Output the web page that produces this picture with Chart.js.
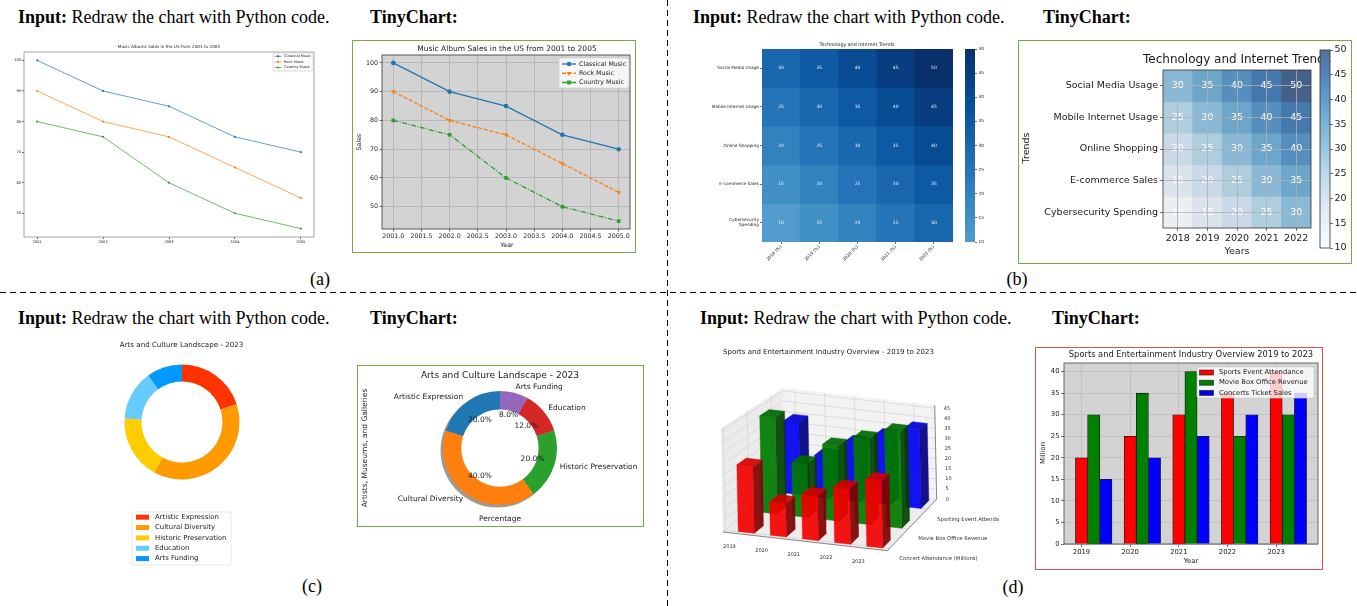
<!DOCTYPE html>
<html lang="en">
<head>
<meta charset="utf-8">
<title>Redraw examples</title>
<script src="https://cdn.jsdelivr.net/npm/chart.js@4.4.1/dist/chart.umd.min.js"></script>
<style>
  body { margin: 0; background: #fff; }
  #page { position: relative; width: 1357px; height: 606px; overflow: hidden; font-family: "Liberation Serif", "Times New Roman", serif; color: #000; }
  #page > * { position: absolute; }
  .hd { font-size: 18px; line-height: 20px; white-space: nowrap; }
  .cap { font-size: 18px; line-height: 20px; width: 40px; text-align: center; }
  .box { box-sizing: border-box; border: 1.5px solid #70ad47; }
  .box.red { border-color: #d9534f; }
  .vsep { left: 667px; top: 0; width: 1px; height: 606px; background: repeating-linear-gradient(180deg, #000 0 6px, transparent 6px 10px); }
  .hsep { left: 0; top: 292px; width: 1357px; height: 1px; background: repeating-linear-gradient(90deg, #000 0 6px, transparent 6px 10px); }
</style>
</head>
<body>
<div id="page">
  <div class="hd" style="left:18px;top:7px"><b>Input:</b> Redraw the chart with Python code.</div>
  <div class="hd" style="left:370px;top:7px"><b>TinyChart:</b></div>
  <div class="hd" style="left:693px;top:7px"><b>Input:</b> Redraw the chart with Python code.</div>
  <div class="hd" style="left:1043px;top:7px"><b>TinyChart:</b></div>
  <div class="hd" style="left:18px;top:308px"><b>Input:</b> Redraw the chart with Python code.</div>
  <div class="hd" style="left:370px;top:308px"><b>TinyChart:</b></div>
  <div class="hd" style="left:700px;top:308px"><b>Input:</b> Redraw the chart with Python code.</div>
  <div class="hd" style="left:1052px;top:308px"><b>TinyChart:</b></div>
  <div class="cap" style="left:300px;top:269px">(a)</div>
  <div class="cap" style="left:997px;top:269px">(b)</div>
  <div class="cap" style="left:292px;top:576px">(c)</div>
  <div class="cap" style="left:993px;top:577px">(d)</div>
  <div class="vsep"></div>
  <div class="hsep"></div>

  <div class="box" style="left:352px;top:40px;width:284px;height:213px"></div>
  <div class="box" style="left:1018px;top:40px;width:334px;height:224px"></div>
  <div class="box" style="left:357px;top:365px;width:287px;height:162px"></div>
  <div class="box red" style="left:1035px;top:347px;width:288px;height:223px"></div>

  <canvas id="lineInput" width="320" height="215" style="left:0;top:40px"></canvas>
  <canvas id="lineTiny" width="280" height="209" style="left:354px;top:42px"></canvas>
  <canvas id="heatInput" width="270" height="235" style="left:690px;top:35px"></canvas>
  <canvas id="heatInputBar" width="45" height="235" style="left:955px;top:35px"></canvas>
  <canvas id="heatTiny" width="330" height="220" style="left:1020px;top:42px"></canvas>
  <canvas id="heatTinyBar" width="34" height="220" style="left:1316px;top:42px"></canvas>
  <canvas id="donutInput" width="200" height="250" style="left:100px;top:330px"></canvas>
  <canvas id="donutTiny" width="283" height="158" style="left:359px;top:367px"></canvas>
  <canvas id="bars3d" width="299" height="240" style="left:700px;top:340px"></canvas>
  <canvas id="barTiny" width="284" height="219" style="left:1037px;top:349px"></canvas>
</div>

<script>
// ---------- data ----------
const musicYears = [2001, 2002, 2003, 2004, 2005];
const classicalMusic = [100, 90, 85, 75, 70];
const rockMusic = [90, 80, 75, 65, 55];
const countryMusic = [80, 75, 60, 50, 45];
const salesTicks = [50, 60, 70, 80, 90, 100];
const halfYearTicks = [2001, 2001.5, 2002, 2002.5, 2003, 2003.5, 2004, 2004.5, 2005];

const trendNames = ['Social Media Usage', 'Mobile Internet Usage', 'Online Shopping', 'E-commerce Sales', 'Cybersecurity Spending'];
const trendYears = ['2018', '2019', '2020', '2021', '2022'];
const socialMedia = [30, 35, 40, 45, 50];
const mobileInternet = [25, 30, 35, 40, 45];
const onlineShopping = [20, 25, 30, 35, 40];
const eCommerce = [15, 20, 25, 30, 35];
const cyberSecurity = [10, 15, 20, 25, 30];
const trendTicks = [10, 15, 20, 25, 30, 35, 40, 45, 50];
const trendRows = [socialMedia, mobileInternet, onlineShopping, eCommerce, cyberSecurity];

const artsNames = ['Artistic Expression', 'Cultural Diversity', 'Historic Preservation', 'Education', 'Arts Funding'];
const artsInput = [20, 38, 18, 14, 10];
const artsTiny = [20, 40, 20, 12, 8];

const sportsYears = [2019, 2020, 2021, 2022, 2023];
const depthNames = ['Concert Attendance (Millions)', 'Movie Box Office Revenue', 'Sporting Event Attendance'];
const concert3d = [30, 15, 20, 25, 30];
const movie3d = [45, 25, 35, 40, 45];
const sporting3d = [35, 20, 28, 33, 38];
const zTicks = [0, 5, 10, 15, 20, 25, 30, 35, 40, 45];
const sportsAttendance = [20, 25, 30, 35, 40];
const movieRevenue = [30, 35, 40, 25, 30];
const concertSales = [15, 20, 25, 30, 35];
const millionTicks = [0, 5, 10, 15, 20, 25, 30, 35, 40];

// ---------- helpers ----------
Chart.defaults.font.family = '"DejaVu Sans", sans-serif';
Chart.defaults.color = '#1a1a1a';

const TAB = { blue: '#1f77b4', orange: '#ff7f0e', green: '#2ca02c', red: '#d62728', purple: '#9467bd' };
const el = id => document.getElementById(id);
const pts = (xs, ys) => xs.map((x, i) => ({ x, y: ys[i] }));

function drawText(c, t) {
  c.save();
  c.font = `${t.weight || 'normal'} ${t.size}px ${t.family || '"DejaVu Sans", sans-serif'}`;
  c.fillStyle = t.color || '#1a1a1a';
  c.textAlign = t.align || 'center';
  c.textBaseline = t.base || 'middle';
  c.translate(t.x, t.y);
  if (t.rot) c.rotate(t.rot * Math.PI / 180);
  c.fillText(t.t, 0, 0);
  c.restore();
}

function drawMarker(c, style, x, y, r, color, rot) {
  c.save();
  c.fillStyle = color;
  c.translate(x, y);
  c.rotate((rot || 0) * Math.PI / 180);
  c.beginPath();
  if (style === 'rect') c.rect(-r * 0.75, -r * 0.75, r * 1.5, r * 1.5);
  else if (style === 'triangle') { c.moveTo(0, -r); c.lineTo(r * 0.87, r * 0.5); c.lineTo(-r * 0.87, r * 0.5); c.closePath(); }
  else c.arc(0, 0, r, 0, Math.PI * 2);
  c.fill();
  c.restore();
}

function drawLegend(chart, L) {
  const c = chart.ctx;
  c.save();
  c.fillStyle = L.fill || 'rgba(255,255,255,0.8)';
  c.strokeStyle = L.edge || '#cccccc';
  c.lineWidth = 0.7;
  c.beginPath();
  if (c.roundRect) c.roundRect(L.x, L.y, L.w, L.h, 2); else c.rect(L.x, L.y, L.w, L.h);
  c.fill();
  c.stroke();
  L.items(chart).forEach((it, i) => {
    const y = L.y0 + i * L.step;
    if (it.line) {
      c.strokeStyle = it.color;
      c.lineWidth = it.width;
      c.setLineDash(it.dash || []);
      c.beginPath(); c.moveTo(L.sx, y); c.lineTo(L.sx + L.sw, y); c.stroke();
      c.setLineDash([]);
      drawMarker(c, it.marker, L.sx + L.sw / 2, y, it.r, it.color, it.rot);
    } else {
      c.fillStyle = it.color;
      c.fillRect(L.sx, y - L.bh / 2, L.sw, L.bh);
      if (it.edge) { c.strokeStyle = it.edge; c.lineWidth = 0.6; c.strokeRect(L.sx, y - L.bh / 2, L.sw, L.bh); }
    }
    drawText(c, { t: it.label, x: L.tx, y, size: L.size, align: 'left' });
  });
  c.restore();
}

const lineItems = chart => chart.data.datasets.map(ds => ({
  line: true, label: ds.label, color: ds.borderColor, dash: ds.borderDash, width: ds.borderWidth,
  marker: ds.pointStyle, rot: ds.pointRotation, r: ds.pointRadius
}));
const barItems = chart => chart.data.datasets.map(ds => ({ label: ds.label, color: ds.backgroundColor, edge: ds.borderColor }));
const sliceItems = chart => chart.data.labels.map((n, i) => ({ label: n, color: chart.data.datasets[0].backgroundColor[i] }));

function deco(cfg) {
  return {
    id: 'deco',
    beforeDraw(chart) {
      if (!cfg.bg) return;
      const a = chart.chartArea, c = chart.ctx;
      c.save(); c.fillStyle = cfg.bg; c.fillRect(a.left, a.top, a.right - a.left, a.bottom - a.top); c.restore();
    },
    beforeDatasetsDraw(chart) { if (cfg.under) cfg.under(chart); },
    afterDatasetsDraw(chart) { if (cfg.over) cfg.over(chart); },
    afterDraw(chart) {
      const a = chart.chartArea, c = chart.ctx;
      if (cfg.frame) {
        c.save(); c.strokeStyle = cfg.frame; c.lineWidth = cfg.frameWidth || 0.8;
        c.strokeRect(a.left, a.top, a.right - a.left, a.bottom - a.top); c.restore();
      }
      (cfg.texts || []).forEach(t => drawText(c, t));
      if (cfg.legend) drawLegend(chart, cfg.legend);
      if (cfg.last) cfg.last(chart);
    }
  };
}

function opts(padding, scales) {
  return {
    responsive: false, animation: false, events: [],
    layout: { padding: Object.assign({ top: 0, right: 0, bottom: 0, left: 0 }, padding) },
    plugins: { legend: { display: false }, tooltip: { enabled: false }, title: { display: false } },
    scales
  };
}

function linAxis(dir, min, max, values, fit, size, more = {}) {
  return {
    type: 'linear', min, max, offset: false, reverse: !!more.reverse, stacked: !!more.stacked,
    position: more.position || (dir === 'x' ? 'bottom' : 'left'),
    afterBuildTicks: ax => { ax.ticks = values.map(v => ({ value: v })); },
    afterFit: ax => { if (dir === 'x') ax.height = fit; else ax.width = fit; },
    border: { display: false },
    grid: {
      display: true, offset: false, drawOnChartArea: !!more.grid, color: more.grid || '#333', lineWidth: 0.8,
      z: more.gridZ || 0, tickLength: more.tick ?? 2.5, tickWidth: 0.7, tickColor: '#333'
    },
    ticks: {
      autoSkip: false, minRotation: 0, maxRotation: 0, padding: more.pad ?? 1.5, font: { size }, color: '#1a1a1a',
      callback: more.fmt || (v => String(v))
    }
  };
}

function catAxis(fit, size, fmt, more = {}) {
  return {
    type: 'category', offset: true, stacked: true,
    afterFit: ax => { ax.height = fit; },
    border: { display: false },
    grid: {
      display: true, offset: false, drawOnChartArea: !!more.grid, color: more.grid || '#333', lineWidth: 0.8,
      z: more.gridZ || 0, tickLength: more.tick ?? 2.5, tickWidth: 0.7, tickColor: '#333'
    },
    ticks: { autoSkip: false, minRotation: more.rot || 0, maxRotation: more.rot || 0, padding: more.pad ?? 1.5, font: { size }, color: '#1a1a1a', callback: fmt }
  };
}

function lineSet(label, values, color, extra) {
  return Object.assign({
    label, data: pts(musicYears, values), borderColor: color, backgroundColor: color,
    pointBackgroundColor: color, pointBorderColor: color, pointBorderWidth: 0, tension: 0, fill: false
  }, extra);
}

// matplotlib "Blues"
const BLUES = [[247,251,255],[222,235,247],[198,219,239],[158,202,225],[107,174,214],[66,146,198],[33,113,181],[8,81,156],[8,48,107]];
function blues(t) {
  t = Math.min(1, Math.max(0, t));
  const p = t * 8, i = Math.min(7, Math.floor(p)), f = p - i;
  return BLUES[i].map((v, k) => v + (BLUES[i + 1][k] - v) * f);
}
const rgb = (a, alpha) => alpha === undefined ? `rgb(${a.map(Math.round).join(',')})` : `rgba(${a.map(Math.round).join(',')},${alpha})`;
const inputCell = v => rgb(blues(0.58 + 0.42 * (v - 10) / 40));
const tinyCell = v => rgb(blues((v - 10) / 40).map(c => 0.7 * c + 0.3 * 211));
const tinyBar = v => rgb(blues((v - 10) / 40).map(c => 0.7 * c + 0.3 * 255));
const wrapName = n => n.length > 21 ? n.split(' ') : n;

// ---------- (a) input: line chart ----------
new Chart(el('lineInput'), {
  type: 'line',
  data: { datasets: [
    lineSet('Classical Music', classicalMusic, TAB.blue, { borderWidth: 0.7, pointRadius: 1.1, pointStyle: 'circle' }),
    lineSet('Rock Music', rockMusic, TAB.orange, { borderWidth: 0.7, pointRadius: 1.1, pointStyle: 'circle' }),
    lineSet('Country Music', countryMusic, TAB.green, { borderWidth: 0.7, pointRadius: 1.1, pointStyle: 'circle' })
  ] },
  options: opts({ top: 12, right: 6 }, {
    x: linAxis('x', 2000.8, 2005.2, musicYears, 18, 3.6, { tick: 2, pad: 1 }),
    y: linAxis('y', 42.25, 102.75, salesTicks, 24, 3.6, { tick: 2, pad: 1 })
  }),
  plugins: [deco({
    frame: '#666', frameWidth: 0.6,
    texts: [{ t: 'Music Albums Sales in the US from 2001 to 2005', x: 169, y: 6.7, size: 4.2 }],
    legend: { x: 273, y: 13, w: 40, h: 18, y0: 16.3, step: 5.6, sx: 274.5, sw: 7, tx: 284, size: 3.6, items: lineItems }
  })]
});

// ---------- (a) TinyChart: line chart ----------
new Chart(el('lineTiny'), {
  type: 'line',
  data: { datasets: [
    lineSet('Classical Music', classicalMusic, TAB.blue, { borderWidth: 1.3, pointRadius: 2.3, pointStyle: 'circle' }),
    lineSet('Rock Music', rockMusic, TAB.orange, { borderWidth: 1.3, pointRadius: 2.7, pointStyle: 'triangle', pointRotation: 180, borderDash: [4, 1.8] }),
    lineSet('Country Music', countryMusic, TAB.green, { borderWidth: 1.3, pointRadius: 2.6, pointStyle: 'rect', borderDash: [5, 1.6, 1, 1.6] })
  ] },
  options: opts({ top: 13, right: 2 }, {
    x: linAxis('x', 2000.8, 2005.2, halfYearTicks, 22, 6.3, { grid: '#b0b0b0', fmt: v => v.toFixed(1) }),
    y: linAxis('y', 42.25, 102.75, salesTicks, 28, 6.3, { grid: '#b0b0b0' })
  }),
  plugins: [deco({
    bg: '#d3d3d3', frame: '#333', frameWidth: 0.8,
    texts: [
      { t: 'Music Album Sales in the US from 2001 to 2005', x: 153, y: 7, size: 7.5 },
      { t: 'Year', x: 153, y: 203, size: 6.3 },
      { t: 'Sales', x: 5, y: 100, size: 6.3, rot: -90 }
    ],
    legend: { x: 205, y: 16, w: 70, h: 30, y0: 22, step: 9.25, sx: 208, sw: 14, tx: 225, size: 6.3, items: lineItems }
  })]
});

// ---------- (b) heatmaps ----------
const heatSets = colorFn => trendRows.map((row, r) => ({
  label: trendNames[r], data: row.map(() => 1), backgroundColor: row.map(colorFn),
  borderWidth: 0, barPercentage: 1, categoryPercentage: 1
}));
const cellLabels = (size, color) => chart => {
  chart.data.datasets.forEach((ds, r) => {
    chart.getDatasetMeta(r).data.forEach((bar, i) => {
      drawText(chart.ctx, { t: String(trendRows[r][i]), x: bar.x, y: (bar.y + bar.base) / 2, size, color });
    });
  });
};
const rowCenters = trendNames.map((_, i) => i + 0.5);

function colorbar(id, pad, fit, size, colorFn, frame) {
  const lo = trendTicks[0], hi = trendTicks[trendTicks.length - 1];
  return new Chart(el(id), {
    type: 'bar',
    data: { labels: [''], datasets: [{
      data: [[lo, hi]], barPercentage: 1, categoryPercentage: 1, borderWidth: 0,
      backgroundColor: ctx => {
        const ch = ctx.chart;
        if (!ch.chartArea) return null;
        const y = ch.scales.y;
        const g = ch.ctx.createLinearGradient(0, y.getPixelForValue(lo), 0, y.getPixelForValue(hi));
        for (let k = 0; k <= 20; k++) g.addColorStop(k / 20, colorFn(lo + (hi - lo) * k / 20));
        return g;
      }
    }] },
    options: opts(pad, {
      x: { type: 'category', display: false, offset: true },
      y: linAxis('y', lo, hi, trendTicks, fit, size, { position: 'right', tick: size > 6 ? 3 : 2, pad: 1.5 })
    }),
    plugins: [deco({ frame })]
  });
}

new Chart(el('heatInput'), {
  type: 'bar',
  data: { labels: trendYears, datasets: heatSets(inputCell) },
  options: opts({ top: 14, right: 7 }, {
    x: catAxis(28, 4.3, (v, i) => trendYears[i] + ' (%)', { rot: 45, tick: 2, pad: 0.5 }),
    y: linAxis('y', 0, trendNames.length, rowCenters, 72, 4.3, { reverse: true, stacked: true, tick: 2, pad: 1, fmt: (v, i) => wrapName(trendNames[i]) })
  }),
  plugins: [deco({
    over: cellLabels(4.5, '#eef3f8'),
    texts: [{ t: 'Technology and Internet Trends', x: 167, y: 10, size: 4.8 }]
  })]
});
colorbar('heatInputBar', { left: 10, top: 14, bottom: 28 }, 25, 4.3, inputCell, null);

new Chart(el('heatTiny'), {
  type: 'bar',
  data: { labels: trendYears, datasets: heatSets(tinyCell) },
  options: opts({ top: 28, right: 39 }, {
    x: catAxis(34, 9.5, (v, i) => trendYears[i], { grid: '#b0b0b0', gridZ: 1, tick: 3, pad: 1.5 }),
    y: linAxis('y', 0, trendNames.length, rowCenters, 143, 9.5, { reverse: true, stacked: true, grid: '#b0b0b0', gridZ: 1, tick: 3, pad: 2, fmt: (v, i) => trendNames[i] })
  }),
  plugins: [deco({
    frame: '#333',
    over: cellLabels(9.5, '#ffffff'),
    texts: [
      { t: 'Technology and Internet Trends', x: 217, y: 18, size: 12 },
      { t: 'Years', x: 217, y: 210, size: 9.5 },
      { t: 'Trends', x: 7, y: 106, size: 9.5, rot: -90 }
    ]
  })]
});
colorbar('heatTinyBar', { left: 4, top: 8, bottom: 14 }, 20, 9.5, tinyBar, '#333');

// ---------- (c) doughnuts ----------
new Chart(el('donutInput'), {
  type: 'doughnut',
  data: { labels: artsNames, datasets: [{ data: artsInput, backgroundColor: ['#ff3300', '#ff9900', '#ffcc00', '#66ccff', '#0099ff'], borderWidth: 0 }] },
  options: Object.assign(opts({ left: 24.5, top: 34.5, right: 60.5, bottom: 100.5 }), { cutout: '70.4%' }),
  plugins: [deco({
    texts: [{ t: 'Arts and Culture Landscape - 2023', x: 81.5, y: 15, size: 7.1 }],
    legend: { x: 32, y: 182, w: 99, h: 53, y0: 187.2, step: 10.35, sx: 36, sw: 13, bh: 5, tx: 55, size: 6.9, fill: '#ffffff', edge: '#dddddd', items: sliceItems }
  })]
});

// original chart runs counter-clockwise from the top, so feed the slices reversed
const tinyOrder = artsNames.map((_, i) => artsNames.length - 1 - i);
const tinyColors = [TAB.blue, TAB.orange, TAB.green, TAB.red, TAB.purple];
new Chart(el('donutTiny'), {
  type: 'doughnut',
  data: {
    labels: tinyOrder.map(i => artsNames[i]),
    datasets: [{ data: tinyOrder.map(i => artsTiny[i]), backgroundColor: tinyOrder.map(i => tinyColors[i]), borderWidth: 0 }]
  },
  options: Object.assign(opts({ left: 84, top: 24, right: 85, bottom: 20 }), { cutout: '68%' }),
  plugins: [deco({
    under: chart => {
      const arc = chart.getDatasetMeta(0).data[0];
      if (!arc) return;
      const c = chart.ctx;
      c.save();
      c.beginPath();
      c.rect(0, 0, chart.width, chart.height);
      c.arc(arc.x, arc.y, arc.innerRadius, 0, Math.PI * 2, true);
      c.clip('evenodd');
      c.fillStyle = 'rgba(95,85,70,0.6)';
      c.beginPath();
      c.arc(arc.x - 2.5, arc.y + 2.5, arc.outerRadius, 0, Math.PI * 2);
      c.arc(arc.x - 2.5, arc.y + 2.5, arc.innerRadius, 0, Math.PI * 2, true);
      c.fill('evenodd');
      c.restore();
    },
    over: chart => {
      const ds = chart.data.datasets[0];
      const total = ds.data.reduce((a, b) => a + b, 0);
      chart.getDatasetMeta(0).data.forEach((arc, i) => {
        const mid = (arc.startAngle + arc.endAngle) / 2, R = arc.outerRadius;
        const cx = Math.cos(mid), cy = Math.sin(mid);
        drawText(chart.ctx, { t: chart.data.labels[i], x: arc.x + 1.1 * R * cx, y: arc.y + 1.1 * R * cy, size: 7.5, align: cx > 0 ? 'left' : 'right' });
        drawText(chart.ctx, { t: (ds.data[i] / total * 100).toFixed(1) + '%', x: arc.x + 0.6 * R * cx, y: arc.y + 0.6 * R * cy, size: 7.5 });
      });
    },
    texts: [
      { t: 'Arts and Culture Landscape - 2023', x: 141, y: 9, size: 9.1 },
      { t: 'Percentage', x: 141, y: 152, size: 7.5 },
      { t: 'Artists, Museums, and Galleries', x: 6, y: 81, size: 7.5, rot: -90 }
    ]
  })]
});

// ---------- (d) input: 3D bars (oblique projection onto linear scales) ----------
const X0 = -0.4, X1 = 4.7, D0 = -0.1, D1 = 2.5, Z1 = 46.5;
function proj(x, d, z) {
  const fx = (x - X0) / (X1 - X0), fd = (d - D0) / (D1 - D0), fz = z / Z1;
  const sx = 1.04 - 0.08 * fd, sz = 1.07 - 0.1 * fd;
  return { x: 23 + fx * 158 * sx + fd * 62 - fz * 2 * sz, y: 192 + fx * 18 * sx - fd * 50 - fz * 97 * sz };
}
const shapes = [];
const addPoly = (corners, fill, stroke, lw) => shapes.push({ pts: corners.map(p => proj(...p)), fill, stroke, lw, closed: true });
const addLine = (a, b, stroke, lw) => shapes.push({ pts: [proj(...a), proj(...b)], fill: null, stroke, lw });

addPoly([[X0, D0, 0], [X1, D0, 0], [X1, D1, 0], [X0, D1, 0]], '#ececec', 'rgba(0,0,0,0)', 0.1);
addPoly([[X0, D1, 0], [X1, D1, 0], [X1, D1, Z1], [X0, D1, Z1]], '#f3f3f3', 'rgba(0,0,0,0)', 0.1);
addPoly([[X0, D0, 0], [X0, D1, 0], [X0, D1, Z1], [X0, D0, Z1]], '#ebebeb', 'rgba(0,0,0,0)', 0.1);
const gridC = '#d2d2d2';
sportsYears.forEach((_, i) => {
  addLine([i, D1, 0], [i, D1, Z1], gridC, 0.7);
  addLine([i, D0, 0], [i, D1, 0], gridC, 0.7);
});
zTicks.forEach(z => {
  addLine([X0, D1, z], [X1, D1, z], gridC, 0.7);
  addLine([X0, D0, z], [X0, D1, z], gridC, 0.7);
});
depthNames.forEach((_, r) => {
  addLine([X0, r, 0], [X0, r, Z1], gridC, 0.7);
  addLine([X0, r, 0], [X1, r, 0], gridC, 0.7);
});
addLine([X0, D0, 0], [X1, D0, 0], '#555', 0.7);
addLine([X1, D0, 0], [X1, D1, 0], '#555', 0.7);
addLine([X1, D1, 0], [X1, D1, Z1], '#555', 0.7);

const rows3d = [concert3d, movie3d, sporting3d];
const rowRgb = [[255, 0, 0], [0, 128, 0], [0, 0, 255]];
for (let r = rows3d.length - 1; r >= 0; r--) {
  rows3d[r].forEach((h, i) => {
    const x0 = i, x1 = i + 0.5, d0 = r, d1 = r + 0.4, base = rowRgb[r];
    const shade = f => rgb(base.map(v => v * f), 0.92);
    addPoly([[x1, d0, 0], [x1, d1, 0], [x1, d1, h], [x1, d0, h]], shade(0.5), shade(0.5), 0.4);
    addPoly([[x0, d0, h], [x1, d0, h], [x1, d1, h], [x0, d1, h]], shade(0.82), shade(0.82), 0.4);
    addPoly([[x0, d0, 0], [x1, d0, 0], [x1, d0, h], [x0, d0, h]], shade(0.95), shade(0.95), 0.4);
  });
}

new Chart(el('bars3d'), {
  type: 'scatter',
  data: { datasets: shapes.map((s, k) => ({
    data: s.closed ? s.pts.concat([s.pts[0]]) : s.pts,
    showLine: true, tension: 0, pointRadius: 0,
    fill: s.fill ? 'shape' : false, backgroundColor: s.fill || 'rgba(0,0,0,0)',
    borderColor: s.stroke, borderWidth: s.lw, order: shapes.length - k
  })) },
  options: opts({}, {
    x: { type: 'linear', min: 0, max: 299, display: false },
    y: { type: 'linear', min: 0, max: 240, reverse: true, display: false }
  }),
  plugins: [deco({
    last: chart => {
      const c = chart.ctx, sx = chart.scales.x, sy = chart.scales.y;
      const at = (x, d, z) => { const p = proj(x, d, z); return { x: sx.getPixelForValue(p.x), y: sy.getPixelForValue(p.y) }; };
      drawText(c, { t: 'Sports and Entertainment Industry Overview - 2019 to 2023', x: 23, y: 12.5, size: 7, align: 'left' });
      zTicks.forEach(z => { const p = at(X1, D1, z); drawText(c, { t: String(z), x: p.x + 9, y: p.y, size: 5, align: 'left', color: '#333' }); });
      sportsYears.forEach((yr, i) => { const p = at(i, D0, 0); drawText(c, { t: String(yr), x: p.x - 6.5, y: p.y + 13.5, size: 5, color: '#333' }); });
      depthNames.forEach((n, r) => { const p = at(X1, r, 0); drawText(c, { t: n, x: p.x + 10, y: p.y + 10, size: 5.3, align: 'left', color: '#333' }); });
    }
  })]
});

// ---------- (d) TinyChart: grouped bars ----------
const barOpts = { borderColor: '#1a1a1a', borderWidth: 0.8, grouped: false, barPercentage: 1, categoryPercentage: 1 };
new Chart(el('barTiny'), {
  type: 'bar',
  data: { datasets: [
    Object.assign({ label: 'Sports Event Attendance', data: pts(sportsYears, sportsAttendance), backgroundColor: '#ff0000' }, barOpts),
    Object.assign({ label: 'Movie Box Office Revenue', data: pts(sportsYears.map(y => y + 0.25), movieRevenue), backgroundColor: '#008000' }, barOpts),
    Object.assign({ label: 'Concerts Ticket Sales', data: pts(sportsYears.map(y => y + 0.5), concertSales), backgroundColor: '#0000ff' }, barOpts)
  ] },
  options: opts({ top: 14, right: 3 }, {
    x: linAxis('x', 2018.64, 2023.86, sportsYears, 24, 6.8, { grid: '#bdbdbd', tick: 3 }),
    y: linAxis('y', 0, 42, millionTicks, 27, 6.8, { grid: '#bdbdbd', tick: 3 })
  }),
  plugins: [deco({
    bg: '#d3d3d3', frame: '#444',
    texts: [
      { t: 'Sports and Entertainment Industry Overview 2019 to 2023', x: 154, y: 6, size: 8.3 },
      { t: 'Year', x: 154, y: 212, size: 6.8 },
      { t: 'Million', x: 6, y: 104, size: 6.8, rot: -90 }
    ],
    legend: { x: 160, y: 18, w: 117, h: 31, y0: 23.5, step: 10.2, sx: 162.5, sw: 14, bh: 5, tx: 182, size: 6.8, items: barItems }
  })]
});
</script>
</body>
</html>
